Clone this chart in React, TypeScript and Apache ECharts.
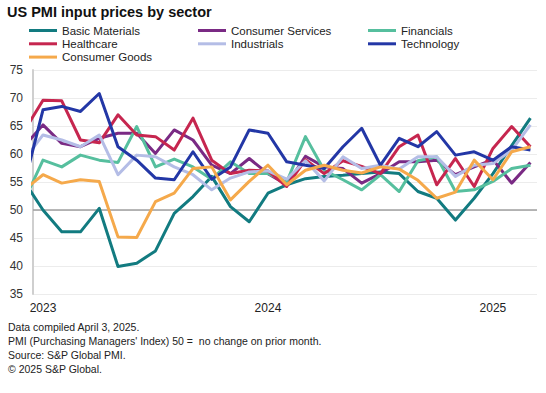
import React, { useEffect, useRef } from "react";
import * as echarts from "echarts";

// Month index: 0 = Dec 2022, 1 = Jan 2023, ... 27 = Mar 2025
const seriesNames = [
  "Basic Materials",
  "Consumer Services",
  "Financials",
  "Healthcare",
  "Industrials",
  "Technology",
  "Consumer Goods",
];

const basicMaterials = [55.1, 50.0, 46.1, 46.1, 50.3, 39.9, 40.5, 42.7, 49.4, 52.4, 56.0, 50.6, 47.9, 53.0, 54.5, 55.6, 56.0, 56.2, 56.5, 56.8, 56.5, 53.3, 52.1, 48.2, 52.1, 56.5, 61.5, 66.4];
const consumerServices = [61.4, 65.2, 61.9, 61.3, 62.8, 63.7, 63.7, 60.1, 64.3, 62.5, 58.0, 56.5, 59.2, 56.5, 54.5, 59.6, 57.7, 57.4, 54.8, 56.5, 58.6, 58.6, 58.9, 56.3, 57.7, 59.0, 54.8, 58.5];
const financials = [51.7, 58.9, 57.7, 59.8, 58.9, 58.5, 64.9, 57.7, 59.1, 57.7, 55.5, 58.6, 56.5, 56.5, 55.0, 63.1, 57.1, 55.4, 53.6, 56.3, 53.3, 58.8, 59.5, 53.3, 53.6, 55.1, 57.4, 58.0];
const healthcare = [64.1, 69.6, 69.5, 62.5, 62.0, 67.0, 63.4, 63.1, 60.7, 66.4, 58.9, 56.5, 57.1, 57.0, 54.2, 59.0, 56.5, 58.8, 57.8, 56.5, 61.3, 63.4, 54.5, 59.2, 54.2, 61.0, 64.9, 61.3];
const industrials = [59.0, 63.4, 62.5, 61.3, 63.4, 56.3, 59.8, 59.5, 57.7, 56.3, 53.6, 55.7, 56.8, 57.0, 55.5, 58.8, 55.2, 59.5, 57.4, 58.0, 57.3, 59.5, 59.5, 56.0, 58.0, 58.3, 60.7, 65.2];
const technology = [54.6, 67.9, 68.5, 67.6, 70.8, 61.3, 58.9, 55.7, 55.4, 60.4, 55.5, 57.7, 64.3, 63.7, 58.6, 58.0, 57.4, 61.3, 64.6, 58.0, 62.8, 61.3, 64.0, 59.8, 60.4, 58.9, 61.3, 60.7];
const consumerGoods = [53.6, 56.3, 54.8, 55.4, 55.1, 45.2, 45.1, 51.5, 53.0, 57.4, 57.7, 51.8, 55.1, 58.0, 54.5, 57.1, 58.0, 57.1, 56.6, 57.7, 57.3, 55.3, 52.1, 53.2, 58.9, 55.4, 60.4, 61.3];

const seriesValues = [basicMaterials, consumerServices, financials, healthcare, industrials, technology, consumerGoods];
const seriesColors = ["#127b80", "#7a2a84", "#56bf9e", "#c6264f", "#b4bde6", "#2337a6", "#f5a94b"];

const yearTickIndex = [1, 13, 25];
const yearTickLabels = ["2023", "2024", "2025"];

const footerLines = [
  "Data compiled April 3, 2025.",
  "PMI (Purchasing Managers' Index) 50 =  no change on prior month.",
  "Source: S&P Global PMI.",
  "\u00A9 2025 S&P Global.",
];

const FONT = "'Liberation Sans', Arial, Helvetica, sans-serif";

const legendColumns = [
  { left: 29, names: ["Basic Materials", "Healthcare", "Consumer Goods"] },
  { left: 198, names: ["Consumer Services", "Industrials"] },
  { left: 368, names: ["Financials", "Technology"] },
];

export default function App() {
  const ref = useRef<HTMLDivElement>(null);

  useEffect(() => {
    if (!ref.current) return;
    const chart = echarts.init(ref.current, undefined, { renderer: "svg" });

    const series: any[] = seriesNames.map((name, si) => {
      const s: any = {
        name,
        type: "line",
        data: seriesValues[si].map((v, i) => [i, v]),
        showSymbol: false,
        symbol: "none",
        lineStyle: { width: 3, color: seriesColors[si], join: "round" },
        itemStyle: { color: seriesColors[si] },
        clip: true,
        z: 3 + si,
      };
      if (si === 0) {
        s.markLine = {
          silent: true,
          symbol: ["none", "none"],
          label: { show: false },
          lineStyle: { color: "#9f9f9f", width: 1.5, type: "solid" },
          data: [{ yAxis: 50 }],
          z: 2,
        };
      }
      return s;
    });

    chart.setOption({
      animation: false,
      backgroundColor: "#ffffff",
      textStyle: { fontFamily: FONT },
      title: {
        text: "US PMI input prices by sector",
        left: 7,
        top: 4,
        padding: 0,
        textStyle: { fontFamily: FONT, fontSize: 14.5, fontWeight: "bold", color: "#111" },
      },
      legend: legendColumns.map((col) => ({
        orient: "vertical",
        left: col.left,
        top: 24.5,
        padding: 0,
        itemGap: 1.3,
        itemWidth: 28,
        itemHeight: 12,
        icon: "path://M0,0H28V3H0Z",
        itemStyle: { borderWidth: 0 },
        selectedMode: false,
        data: col.names,
        textStyle: { fontFamily: FONT, fontSize: 11.5, color: "#222", lineHeight: 12 },
      })),
      grid: { left: 33, right: 9, top: 70, bottom: 99, containLabel: false },
      xAxis: {
        type: "value",
        min: 0.467,
        max: 27.35,
        splitLine: { show: false },
        axisLine: { show: false },
        axisTick: { show: false },
        axisLabel: {
          customValues: yearTickIndex,
          formatter: (v: number) => {
            const k = yearTickIndex.indexOf(Math.round(v));
            return k >= 0 ? yearTickLabels[k] : "";
          },
          fontFamily: FONT,
          fontSize: 12,
          color: "#222",
          margin: 8,
        },
      },
      yAxis: {
        type: "value",
        min: 35,
        max: 75,
        interval: 5,
        axisLine: { show: true, lineStyle: { color: "#cfcfcf", width: 2 } },
        axisTick: { show: false },
        splitLine: { show: true, lineStyle: { color: "#ececec", width: 1 } },
        axisLabel: { fontFamily: FONT, fontSize: 12, color: "#333", margin: 10 },
      },
      graphic: footerLines.map((t, i) => ({
        type: "text",
        left: 8,
        top: 321 + i * 14,
        style: { text: t, fontFamily: FONT, fontSize: 10.5, fill: "#222" },
      })),
      series,
    });

    return () => chart.dispose();
  }, []);

  return (
    <div
      ref={ref}
      style={{ position: "fixed", left: 0, top: 0, width: 546, height: 393, background: "#fff" }}
    />
  );
}
